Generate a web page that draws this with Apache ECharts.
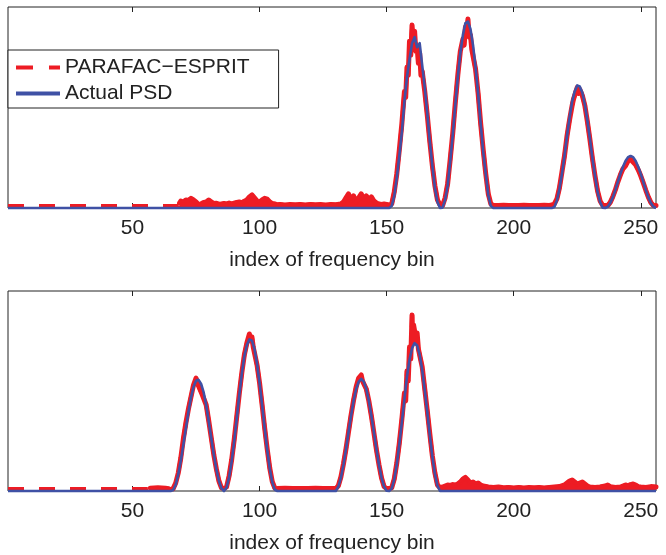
<!DOCTYPE html>
<html>
<head>
<meta charset="utf-8">
<script src="https://cdn.jsdelivr.net/npm/echarts@6.0.0/dist/echarts.min.js"></script>
<style>
  html, body { margin: 0; padding: 0; background: #fff; }
  #chart { width: 666px; height: 555px; }
</style>
</head>
<body>
<div id="chart"></div>
<script>
// x ticks shown on both panels
const tickValues = [50, 100, 150, 200, 250];

// top panel: true spectrum, [bin, power]
const actualTop = [
  [1, 0], [151, 0], [152, 0.01], [153, 0.06], [154, 0.15], [155, 0.26], [156, 0.38], [157, 0.53], [158, 0.65],
  [159, 0.74], [160, 0.82], [161, 0.85], [162, 0.80], [163, 0.82], [164, 0.71], [165, 0.60], [166, 0.47],
  [167, 0.33], [168, 0.21], [169, 0.10], [170, 0.03], [171, 0], [172, 0.002], [173, 0.04], [174, 0.11],
  [175, 0.23], [176, 0.36], [177, 0.51], [178, 0.65], [179, 0.77], [180, 0.86], [181, 0.92], [182, 0.927],
  [183, 0.89], [184, 0.81], [185, 0.70], [186, 0.57], [187, 0.42], [188, 0.28], [189, 0.17], [190, 0.065],
  [191, 0.01], [192, 0], [215, 0], [216, 0.005], [217, 0.037], [218, 0.095], [219, 0.17], [220, 0.26],
  [221, 0.36], [222, 0.45], [223, 0.53], [224, 0.58], [225, 0.61], [226, 0.605], [227, 0.575], [228, 0.515],
  [229, 0.435], [230, 0.345], [231, 0.245], [232, 0.16], [233, 0.08], [234, 0.03], [235, 0.002], [236, 0],
  [237, 0.006], [238, 0.025], [239, 0.053], [240, 0.089], [241, 0.13], [242, 0.17], [243, 0.205], [244, 0.234],
  [245, 0.253], [246, 0.259], [247, 0.253], [248, 0.234], [249, 0.205], [250, 0.17], [251, 0.13], [252, 0.089],
  [253, 0.053], [254, 0.025], [255, 0.006], [256, 0]
];

// top panel: PARAFAC-ESPRIT estimate
const estimateTop = [
  [1, 0.01], [68, 0.01], [68.5, 0.025], [69, 0.035], [70, 0.03], [71, 0.04], [72, 0.038], [73, 0.048],
  [74, 0.04], [75, 0.03], [76, 0.016], [77, 0.02], [78, 0.028], [79, 0.03], [80, 0.04], [81, 0.03],
  [82, 0.022], [83, 0.024], [84, 0.018], [85, 0.02], [86, 0.022], [87, 0.02], [88, 0.025], [89, 0.02],
  [90, 0.024], [91, 0.028], [92, 0.03], [93, 0.026], [94, 0.034], [95, 0.04], [96, 0.055], [97, 0.065],
  [98, 0.05], [99, 0.035], [100, 0.03], [101, 0.04], [102, 0.048], [103, 0.044], [104, 0.03], [105, 0.022],
  [106, 0.02], [107, 0.016], [108, 0.018], [110, 0.015], [112, 0.018], [114, 0.016], [116, 0.017],
  [118, 0.015], [120, 0.018], [122, 0.016], [124, 0.017], [126, 0.015], [128, 0.017], [130, 0.016],
  [132, 0.02], [133, 0.03], [134, 0.05], [135, 0.07], [136, 0.04], [137, 0.06], [138, 0.03], [139, 0.05],
  [140, 0.07], [141, 0.045], [142, 0.06], [143, 0.04], [144, 0.055], [145, 0.035], [146, 0.025], [147, 0.02],
  [148, 0.018], [149, 0.02], [150, 0.018], [151, 0.015],
  [152, 0.02], [153, 0.08], [154, 0.17], [155, 0.29], [156, 0.42], [157, 0.58], [157.5, 0.55], [158, 0.70],
  [158.5, 0.66], [159, 0.83], [159.5, 0.76], [160, 0.91], [160.5, 0.82], [161, 0.88], [161.5, 0.78],
  [162, 0.80], [162.5, 0.72], [163, 0.77], [163.5, 0.66], [164, 0.68], [165, 0.58], [166, 0.46], [167, 0.33],
  [168, 0.21], [169, 0.11], [170, 0.04], [171, 0.015],
  [172, 0.012], [173, 0.05], [174, 0.12], [175, 0.24], [176, 0.37], [177, 0.52], [178, 0.66], [179, 0.78],
  [180, 0.84], [180.5, 0.81], [181, 0.90], [181.5, 0.86], [182, 0.94], [182.5, 0.85], [183, 0.86],
  [183.5, 0.79], [184, 0.79], [185, 0.69], [186, 0.57], [187, 0.42], [188, 0.29], [189, 0.17], [190, 0.07],
  [191, 0.02], [192, 0.014], [194, 0.012], [196, 0.014], [198, 0.012], [200, 0.013], [202, 0.012],
  [204, 0.014], [206, 0.012], [208, 0.013], [210, 0.012], [212, 0.014], [214, 0.013], [215, 0.015],
  [216, 0.02], [217, 0.045], [218, 0.10], [219, 0.18], [220, 0.26], [221, 0.36], [222, 0.44], [223, 0.51],
  [223.5, 0.54], [224, 0.56], [224.5, 0.58], [225, 0.60], [225.5, 0.57], [226, 0.59], [227, 0.56], [228, 0.51],
  [229, 0.43], [230, 0.34], [231, 0.245], [232, 0.16], [233, 0.085], [234, 0.035], [235, 0.014], [236, 0.012],
  [237, 0.012], [238, 0.028], [239, 0.056], [240, 0.09], [241, 0.13], [242, 0.165], [243, 0.195], [244, 0.21],
  [245, 0.235], [246, 0.25], [246.5, 0.235], [247, 0.24], [248, 0.215], [249, 0.19], [250, 0.16], [251, 0.125],
  [252, 0.088], [253, 0.054], [254, 0.027], [255, 0.012], [256, 0.012]
];

// bottom panel: true spectrum
const actualBottom = [
  [1, 0], [65, 0], [66, 0.005], [67, 0.032], [68, 0.083], [69, 0.151], [70, 0.231], [71, 0.315], [72, 0.395],
  [73, 0.466], [74, 0.52], [75, 0.551], [76, 0.556], [77, 0.535], [78, 0.493], [79, 0.429], [80, 0.349],
  [81, 0.264], [82, 0.181], [83, 0.108], [84, 0.051], [85, 0.013], [86, 0], [87, 0.017], [88, 0.069],
  [89, 0.147], [90, 0.247], [91, 0.36], [92, 0.477], [93, 0.585], [94, 0.673], [95, 0.73], [96, 0.758],
  [97, 0.752], [98, 0.71], [99, 0.636], [100, 0.54], [101, 0.43], [102, 0.315], [103, 0.206], [104, 0.113],
  [105, 0.044], [106, 0.006], [107, 0], [130, 0], [131, 0.022], [132, 0.066], [133, 0.13], [134, 0.208],
  [135, 0.293], [136, 0.376], [137, 0.451], [138, 0.51], [139, 0.547], [140, 0.56], [141, 0.547], [142, 0.51],
  [143, 0.451], [144, 0.376], [145, 0.293], [146, 0.208], [147, 0.13], [148, 0.066], [149, 0.022], [150, 0.001],
  [151, 0], [152, 0.012], [153, 0.058], [154, 0.134], [155, 0.233], [156, 0.346], [157, 0.459], [158, 0.571],
  [159, 0.656], [160, 0.714], [161, 0.739], [162, 0.728], [163, 0.682], [164, 0.606], [165, 0.504],
  [166, 0.394], [167, 0.278], [168, 0.172], [169, 0.085], [170, 0.026], [171, 0], [256, 0]
];

// bottom panel: PARAFAC-ESPRIT estimate
const estimateBottom = [
  [1, 0.01], [56, 0.01], [57, 0.014], [60, 0.016], [63, 0.014], [64, 0.012], [65, 0.01], [66, 0.012],
  [67, 0.04], [68, 0.09], [69, 0.165], [70, 0.26], [71, 0.34], [72, 0.41], [73, 0.47], [74, 0.53], [75, 0.565],
  [75.5, 0.54], [76, 0.55], [76.5, 0.51], [77, 0.52], [77.5, 0.48], [78, 0.49], [79, 0.43], [80, 0.35],
  [81, 0.265], [82, 0.18], [83, 0.11], [84, 0.05], [85, 0.016], [86, 0.012],
  [87, 0.02], [88, 0.075], [89, 0.155], [90, 0.255], [91, 0.37], [92, 0.485], [93, 0.59], [94, 0.68],
  [95, 0.74], [96, 0.785], [96.5, 0.75], [97, 0.77], [97.5, 0.72], [98, 0.71], [99, 0.63], [100, 0.54],
  [101, 0.43], [102, 0.315], [103, 0.21], [104, 0.115], [105, 0.047], [106, 0.014], [107, 0.012],
  [110, 0.014], [113, 0.012], [116, 0.013], [119, 0.012], [122, 0.014], [125, 0.012], [128, 0.013],
  [130, 0.012], [131, 0.026], [132, 0.07], [133, 0.135], [134, 0.21], [135, 0.295], [136, 0.38], [137, 0.455],
  [138, 0.52], [139, 0.565], [140, 0.58], [140.5, 0.55], [141, 0.555], [142, 0.51], [143, 0.45], [144, 0.375],
  [145, 0.29], [146, 0.205], [147, 0.13], [148, 0.065], [149, 0.022], [150, 0.012], [151, 0.012],
  [152, 0.016], [153, 0.06], [154, 0.14], [155, 0.24], [156, 0.36], [157, 0.49], [157.5, 0.45], [158, 0.60],
  [158.5, 0.55], [159, 0.72], [159.5, 0.66], [160, 0.88], [160.3, 0.76], [160.6, 0.83], [161, 0.80],
  [161.5, 0.74], [162, 0.79], [162.5, 0.71], [163, 0.72], [163.5, 0.65], [164, 0.62], [165, 0.51], [166, 0.40],
  [167, 0.285], [168, 0.175], [169, 0.09], [170, 0.03], [171, 0.016],
  [172, 0.02], [173, 0.025], [174, 0.03], [175, 0.028], [176, 0.032], [177, 0.03], [178, 0.035], [179, 0.045],
  [180, 0.06], [181, 0.068], [182, 0.055], [183, 0.04], [184, 0.045], [185, 0.035], [186, 0.04], [187, 0.03],
  [188, 0.025], [190, 0.02], [192, 0.018], [194, 0.02], [196, 0.016], [198, 0.018], [200, 0.015], [202, 0.017],
  [204, 0.015], [206, 0.018], [208, 0.016], [210, 0.017], [212, 0.015], [214, 0.018], [216, 0.02], [218, 0.022],
  [220, 0.03], [221, 0.04], [222, 0.05], [223, 0.055], [224, 0.045], [225, 0.035], [226, 0.04], [227, 0.045],
  [228, 0.035], [229, 0.025], [230, 0.02], [232, 0.018], [234, 0.02], [236, 0.025], [237, 0.03], [238, 0.022],
  [240, 0.018], [242, 0.02], [244, 0.03], [245, 0.026], [246, 0.032], [247, 0.035], [248, 0.03], [249, 0.022],
  [250, 0.02], [252, 0.018], [254, 0.022], [256, 0.02]
];

const RED = '#ed1c24';
const BLUE = '#3f51a5';
const INK = '#222';
const FONT = 'Liberation Sans, Arial, Helvetica, sans-serif';
const ESTIMATE = 'PARAFAC\u2212ESPRIT';
const ACTUAL = 'Actual PSD';

// value of the true spectrum at x (linear between listed bins)
function psdAt(curve, x) {
    for (let i = 0; i < curve.length - 1; i++) {
        if (x >= curve[i][0] && x <= curve[i + 1][0]) {
            const a = curve[i], b = curve[i + 1];
            if (b[0] === a[0]) return a[1];
            return a[1] + (b[1] - a[1]) * (x - a[0]) / (b[0] - a[0]);
        }
    }
    return 0;
}

function panelSeries(gi, est, actual) {
    // solid red where the estimate leaves the floor, dashed elsewhere
    const band = est.map(p => p[1] > 0.011 ? p : [p[0], '-']);
    const floorNoise = est.map(p => (psdAt(actual, p[0]) === 0 && p[1] > 0.011) ? p : [p[0], '-']);
    const common = {type: 'line', xAxisIndex: gi * 2, yAxisIndex: gi, symbol: 'none', clip: false, animation: false};
    return [
        Object.assign({}, common, {
            name: ESTIMATE, data: est, z: 2,
            itemStyle: {color: RED},
            lineStyle: {color: RED, width: 4, type: [16, 15]}
        }),
        Object.assign({}, common, {
            name: 'est-band', data: band, z: 2, connectNulls: false, silent: true,
            lineStyle: {color: RED, width: 5, join: 'round', cap: 'round'}
        }),
        Object.assign({}, common, {
            name: 'est-floor', data: floorNoise, z: 2, connectNulls: false, silent: true,
            lineStyle: {color: RED, width: 2},
            areaStyle: {color: RED, opacity: 1}
        }),
        Object.assign({}, common, {
            name: ACTUAL, data: actual, z: 3,
            itemStyle: {color: BLUE},
            lineStyle: {color: BLUE, width: 2.6, join: 'round'}
        })
    ];
}

function bottomAxis(gi) {
    return {
        gridIndex: gi, type: 'value', position: 'bottom', min: 1, max: 256,
        axisLine: {show: false}, splitLine: {show: false},
        axisTick: {inside: true, length: 5, customValues: tickValues, lineStyle: {color: INK}},
        axisLabel: {customValues: tickValues, margin: 10, fontSize: 21, color: INK, fontFamily: FONT},
        name: 'index of frequency bin', nameLocation: 'middle', nameGap: 42,
        nameTextStyle: {fontSize: 21, color: INK, fontFamily: FONT}
    };
}

function topAxis(gi) {
    return {
        gridIndex: gi, type: 'value', position: 'top', min: 1, max: 256,
        axisLine: {show: false}, splitLine: {show: false},
        axisTick: {inside: true, length: 5, customValues: tickValues, lineStyle: {color: INK}},
        axisLabel: {show: false}
    };
}

const option = {
    backgroundColor: '#fff',
    animation: false,
    grid: [
        {left: 8, top: 7, width: 648, height: 201, show: true, borderColor: INK, borderWidth: 1, backgroundColor: 'transparent'},
        {left: 8, top: 291, width: 648, height: 201, show: true, borderColor: INK, borderWidth: 1, backgroundColor: 'transparent'}
    ],
    xAxis: [bottomAxis(0), topAxis(0), bottomAxis(1), topAxis(1)],
    yAxis: [
        {gridIndex: 0, type: 'value', min: 0, max: 1, show: false},
        {gridIndex: 1, type: 'value', min: 0, max: 1, show: false}
    ],
    legend: {
        data: [
            {name: ESTIMATE, icon: 'path://M0,0h17v4h-17z M33,0h11v4h-11z'},
            {name: ACTUAL, icon: 'path://M0,0h44v4h-44z'}
        ],
        orient: 'vertical', left: 8, top: 50,
        itemWidth: 44, itemHeight: 4, itemGap: 5,
        padding: [7, 29, 4, 8],
        borderColor: INK, borderWidth: 1, borderRadius: 0,
        backgroundColor: '#fff',
        selectedMode: false,
        textStyle: {fontSize: 21, color: INK, fontFamily: FONT}
    },
    series: panelSeries(0, estimateTop, actualTop).concat(panelSeries(1, estimateBottom, actualBottom))
};

const myChart = echarts.init(document.getElementById('chart'), null, {renderer: 'canvas'});
myChart.setOption(option);
</script>
</body>
</html>
